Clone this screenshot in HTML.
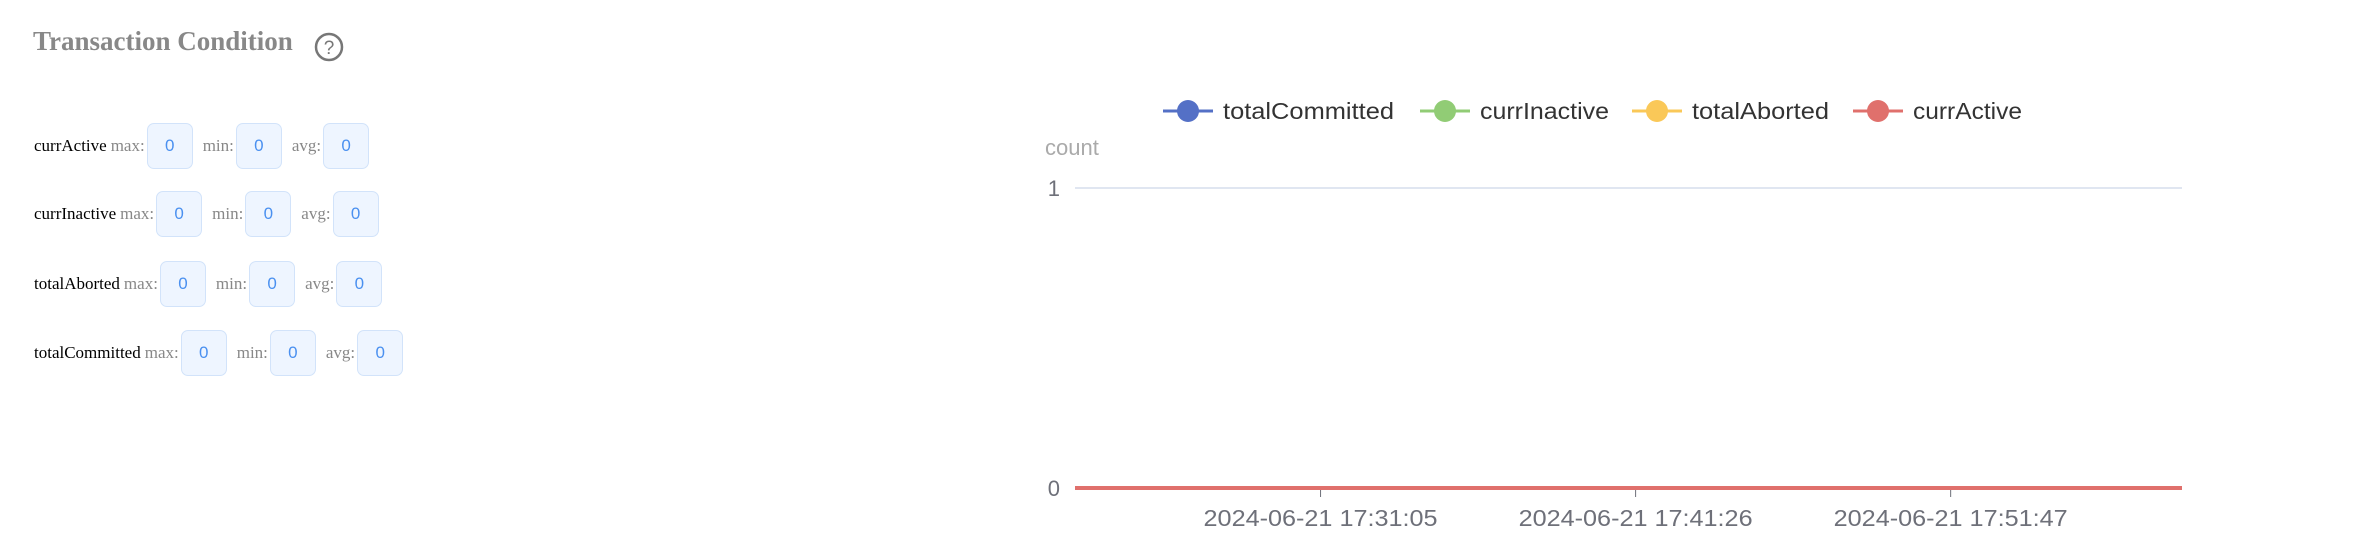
<!DOCTYPE html>
<html><head><meta charset="utf-8">
<style>
body{margin:0;width:2378px;height:548px;background:#fff;overflow:hidden;position:relative;font-family:"Liberation Sans",sans-serif;}
.title{position:absolute;left:33px;top:26px;font:bold 27px "Liberation Serif",serif;color:#888;}
.help{position:absolute;left:313px;top:31px;}
.row{position:absolute;left:34px;height:46px;display:flex;align-items:center;font-family:"Liberation Serif",serif;font-size:17px;}
.lbl{color:#000;margin-right:4px;}
.k{color:#888;margin-right:2px;}
.box{width:44px;height:44px;border:1px solid #d2e3fa;background:#eef5ff;border-radius:7px;display:flex;align-items:center;justify-content:center;color:#4a90f0;font-family:"Liberation Sans",sans-serif;font-size:17px;margin-right:10px;}
svg.chart{position:absolute;left:0;top:0;}
</style></head><body>
<div class="title">Transaction Condition</div>
<svg class="help" width="32" height="32"><circle cx="16" cy="16" r="13" fill="none" stroke="#777" stroke-width="2.5"/><text x="16" y="23" text-anchor="middle" font-family="Liberation Sans" font-size="19" fill="#777">?</text></svg>

<div class="row" style="top:123px"><span class="lbl">currActive</span><span class="k">max:</span><div class="box">0</div><span class="k">min:</span><div class="box">0</div><span class="k">avg:</span><div class="box">0</div></div>
<div class="row" style="top:191px"><span class="lbl">currInactive</span><span class="k">max:</span><div class="box">0</div><span class="k">min:</span><div class="box">0</div><span class="k">avg:</span><div class="box">0</div></div>
<div class="row" style="top:261px"><span class="lbl">totalAborted</span><span class="k">max:</span><div class="box">0</div><span class="k">min:</span><div class="box">0</div><span class="k">avg:</span><div class="box">0</div></div>
<div class="row" style="top:330px"><span class="lbl">totalCommitted</span><span class="k">max:</span><div class="box">0</div><span class="k">min:</span><div class="box">0</div><span class="k">avg:</span><div class="box">0</div></div>

<svg class="chart" id="chart" width="2378" height="548"></svg>
<script>
const seriesNames=["totalCommitted","currInactive","totalAborted","currActive"];
const seriesColors=["#5470c6","#91cc75","#fac858","#e0706c"];
const times=["17:23:01","17:31:05","17:41:26","17:51:47","17:59:23"];
const totalCommitted=[0,0,0,0,0];
const currInactive=[0,0,0,0,0];
const totalAborted=[0,0,0,0,0];
const currActive=[0,0,0,0,0];
const yTicks=[0,1];
const xTickLabels=["2024-06-21 17:31:05","2024-06-21 17:41:26","2024-06-21 17:51:47"];

const svg=document.getElementById('chart');
const NS="http://www.w3.org/2000/svg";
function mk(t,a){const e=document.createElementNS(NS,t);for(const k in a)e.setAttribute(k,a[k]);svg.appendChild(e);return e;}
function sec(s){const p=s.split(':').map(Number);return p[0]*3600+p[1]*60+p[2];}
const x0=1075,x1=2182,yb=488,yt=188;
const tMin=sec(times[0]),tMax=sec(times[times.length-1]);
const xs=t=>x0+(sec(t)-tMin)/(tMax-tMin)*(x1-x0);
const ys=v=>yb-(v-yTicks[0])/(yTicks[yTicks.length-1]-yTicks[0])*(yb-yt);

yTicks.forEach(v=>{
  if(v>yTicks[0]){const g=mk('line',{x1:x0,x2:x1,y1:ys(v),y2:ys(v),stroke:'#e0e6f1','stroke-width':2});
  
  }
  const t=mk('text',{x:1060,y:ys(v)+8,'text-anchor':'end','font-size':22,fill:'#6e7079','font-family':'Liberation Sans'});
  t.textContent=v;
  
  
});
const yt2=mk('text',{x:1045,y:155,'font-size':22,fill:'#aaa','font-family':'Liberation Sans'});
yt2.textContent='count';



const ax=mk('line',{x1:x0,x2:x1,y1:yb,y2:yb,stroke:'#6e7079','stroke-width':1});


xTickLabels.forEach(l=>{
  const x=xs(l.split(' ')[1]);
  const tk=mk('line',{x1:x,x2:x,y1:yb,y2:yb+9,stroke:'#6e7079','stroke-width':1});
  
  
  const t=mk('text',{x:x,y:526,'text-anchor':'middle','font-size':23,fill:'#6e7079','font-family':'Liberation Sans',textLength:234,lengthAdjust:'spacingAndGlyphs'});
  t.textContent=l;
  
  
});

const data=[totalCommitted,currInactive,totalAborted,currActive];
data.forEach((d,i)=>{
  const pts=d.map((v,j)=>xs(times[j])+','+ys(v)).join(' ');
  const pl=mk('polyline',{points:pts,fill:'none',stroke:seriesColors[i],'stroke-width':4});
  
  
});

const legendX=[1188,1445,1657,1878];
const legendW=[171,129,137,109];
seriesNames.forEach((n,i)=>{
  const cx=legendX[i];
  const g=document.createElementNS(NS,'g');
  
  
  svg.appendChild(g);
  const l=document.createElementNS(NS,'line');
  l.setAttribute('x1',cx-25);l.setAttribute('x2',cx+25);l.setAttribute('y1',111);l.setAttribute('y2',111);
  l.setAttribute('stroke',seriesColors[i]);l.setAttribute('stroke-width',3);g.appendChild(l);
  const c=document.createElementNS(NS,'circle');
  c.setAttribute('cx',cx);c.setAttribute('cy',111);c.setAttribute('r',11);c.setAttribute('fill',seriesColors[i]);g.appendChild(c);
  const t=document.createElementNS(NS,'text');
  t.setAttribute('x',cx+35);t.setAttribute('y',119);t.setAttribute('font-size',23);t.setAttribute('fill','#333');t.setAttribute('font-family','Liberation Sans');
  t.setAttribute('textLength',legendW[i]);t.setAttribute('lengthAdjust','spacingAndGlyphs');
  t.textContent=n;g.appendChild(t);
});
</script>
</body></html>
